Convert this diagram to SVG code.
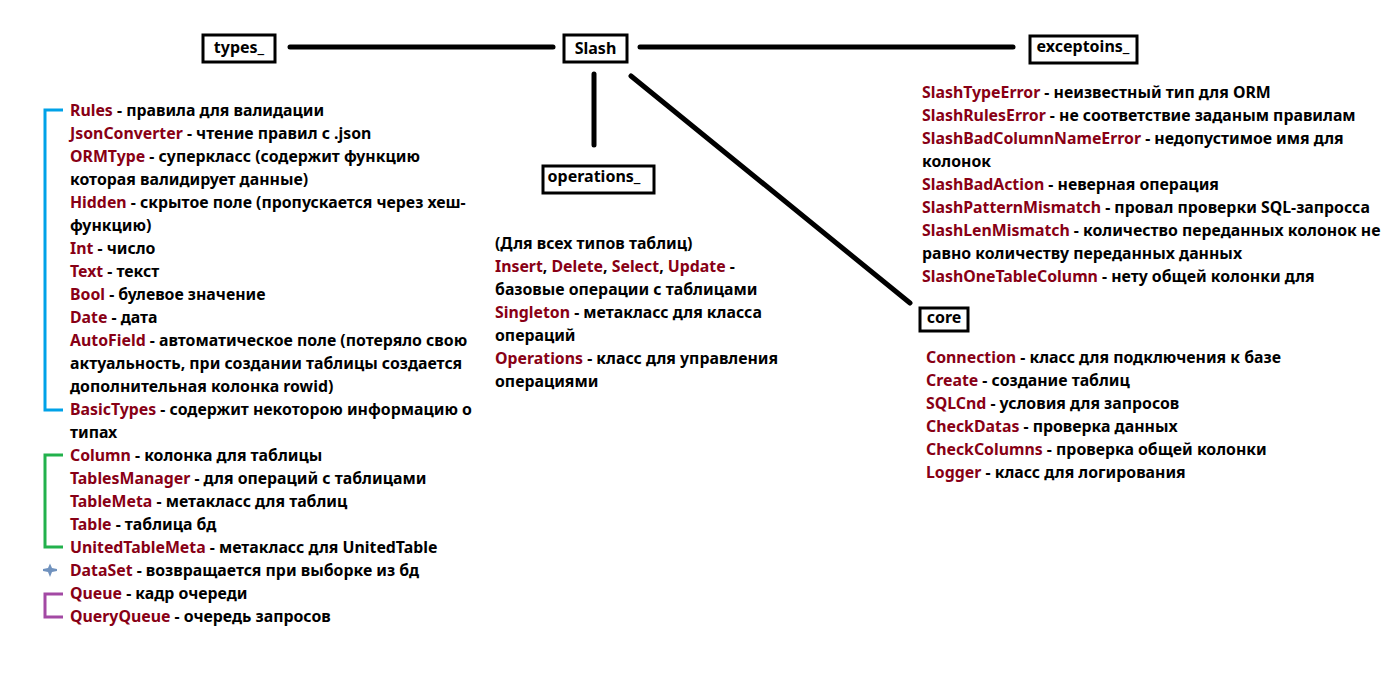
<svg xmlns="http://www.w3.org/2000/svg" width="1400" height="700" viewBox="0 0 1400 700">
<style>
text{font-family:"Noto Sans","Liberation Sans",sans-serif;font-weight:bold;font-size:15.85px;fill:#000}
.k{fill:#880015}
.box{fill:#fff;stroke:#000;stroke-width:3}
.lbl{font-size:16px}
.con{stroke:#000;stroke-width:5;stroke-linecap:round;fill:none}
.br{fill:none;stroke-width:3}
</style>
<rect width="1400" height="700" fill="#fff"/>
<g id="connectors">
<line class="con" x1="290" y1="47" x2="553" y2="47"/>
<line class="con" x1="640" y1="47" x2="1013" y2="47"/>
<line class="con" x1="594" y1="74" x2="594" y2="145"/>
<line class="con" x1="631" y1="76" x2="910" y2="303"/>
</g>
<g id="node-types">
<rect class="box" x="203" y="35" width="72" height="27"/>
<text class="lbl" x="239" y="53" text-anchor="middle">types_</text>
</g>
<g id="node-slash">
<rect class="box" x="564" y="35" width="63" height="27"/>
<text class="lbl" x="595.5" y="54" text-anchor="middle">Slash</text>
</g>
<g id="node-exceptions">
<rect class="box" x="1030" y="36" width="107" height="27"/>
<text class="lbl" x="1083" y="52" text-anchor="middle">exceptoins_</text>
</g>
<g id="node-operations">
<rect class="box" x="543" y="166" width="111" height="27"/>
<text class="lbl" x="594" y="182" text-anchor="middle">operations_</text>
</g>
<g id="node-core">
<rect class="box" x="920" y="308" width="48" height="23"/>
<text class="lbl" x="944" y="323" text-anchor="middle">core</text>
</g>
<g id="types-list">
<path class="br" stroke="#00a2e8" d="M63,110 H45 V410 H63"/>
<path class="br" stroke="#22b14c" d="M63,455 H45 V547 H63"/>
<path fill="#7092be" d="M50,563.5 L52,568 L57,569 V571 L52,572 L50,577 L48,572 L43,571 V569 L48,568 Z"/>
<path class="br" stroke="#a349a4" d="M63,594 H45 V617 H63"/>
<g transform="translate(0,1)">
<text x="70" y="115"><tspan class="k">Rules</tspan> - правила для валидации</text>
<text x="70" y="138"><tspan class="k">JsonConverter</tspan> - чтение правил с .json</text>
<text x="70" y="161"><tspan class="k">ORMType</tspan> - суперкласс (содержит функцию</text>
<text x="70" y="184">которая валидирует данные)</text>
<text x="70" y="207"><tspan class="k">Hidden</tspan> - скрытое поле (пропускается через хеш-</text>
<text x="70" y="230">функцию)</text>
<text x="70" y="253"><tspan class="k">Int</tspan> - число</text>
<text x="70" y="276"><tspan class="k">Text</tspan> - текст</text>
<text x="70" y="299"><tspan class="k">Bool</tspan> - булевое значение</text>
<text x="70" y="322"><tspan class="k">Date</tspan> - дата</text>
<text x="70" y="345"><tspan class="k">AutoField</tspan> - автоматическое поле (потеряло свою</text>
<text x="70" y="368">актуальность, при создании таблицы создается</text>
<text x="70" y="391">дополнительная колонка rowid)</text>
<text x="70" y="414"><tspan class="k">BasicTypes</tspan> - содержит некоторою информацию о</text>
<text x="70" y="437">типах</text>
<text x="70" y="460"><tspan class="k">Column</tspan> - колонка для таблицы</text>
<text x="70" y="483"><tspan class="k">TablesManager</tspan> - для операций с таблицами</text>
<text x="70" y="506"><tspan class="k">TableMeta</tspan> - метакласс для таблиц</text>
<text x="70" y="529"><tspan class="k">Table</tspan> - таблица бд</text>
<text x="70" y="552"><tspan class="k">UnitedTableMeta</tspan> - метакласс для UnitedTable</text>
<text x="70" y="575"><tspan class="k">DataSet</tspan> - возвращается при выборке из бд</text>
<text x="70" y="598"><tspan class="k">Queue</tspan> - кадр очереди</text>
<text x="70" y="621"><tspan class="k">QueryQueue</tspan> - очередь запросов</text>
</g>
</g>
<g id="operations-list" transform="translate(0,1)">
<text x="495" y="248">(Для всех типов таблиц)</text>
<text x="495" y="271"><tspan class="k">Insert</tspan>, <tspan class="k">Delete</tspan>, <tspan class="k">Select</tspan>, <tspan class="k">Update</tspan> -</text>
<text x="495" y="294">базовые операции с таблицами</text>
<text x="495" y="317"><tspan class="k">Singleton</tspan> - метакласс для класса</text>
<text x="495" y="340">операций</text>
<text x="495" y="363"><tspan class="k">Operations</tspan> - класс для управления</text>
<text x="495" y="386">операциями</text>
</g>
<g id="exceptions-list" transform="translate(0,1)">
<text x="922" y="97"><tspan class="k">SlashTypeError</tspan> - неизвестный тип для ORM</text>
<text x="922" y="120"><tspan class="k">SlashRulesError</tspan> - не соответствие заданым правилам</text>
<text x="922" y="143"><tspan class="k">SlashBadColumnNameError</tspan> - недопустимое имя для</text>
<text x="922" y="166">колонок</text>
<text x="922" y="189"><tspan class="k">SlashBadAction</tspan> - неверная операция</text>
<text x="922" y="212"><tspan class="k">SlashPatternMismatch</tspan> - провал проверки SQL-запросса</text>
<text x="922" y="235"><tspan class="k">SlashLenMismatch</tspan> - количество переданных колонок не</text>
<text x="922" y="258">равно количеству переданных данных</text>
<text x="922" y="281"><tspan class="k">SlashOneTableColumn</tspan> - нету общей колонки для</text>
</g>
<g id="core-list" transform="translate(0,1)">
<text x="926" y="362"><tspan class="k">Connection</tspan> - класс для подключения к базе</text>
<text x="926" y="385"><tspan class="k">Create</tspan> - создание таблиц</text>
<text x="926" y="408"><tspan class="k">SQLCnd</tspan> - условия для запросов</text>
<text x="926" y="431"><tspan class="k">CheckDatas</tspan> - проверка данных</text>
<text x="926" y="454"><tspan class="k">CheckColumns</tspan> - проверка общей колонки</text>
<text x="926" y="477"><tspan class="k">Logger</tspan> - класс для логирования</text>
</g>
</svg>
